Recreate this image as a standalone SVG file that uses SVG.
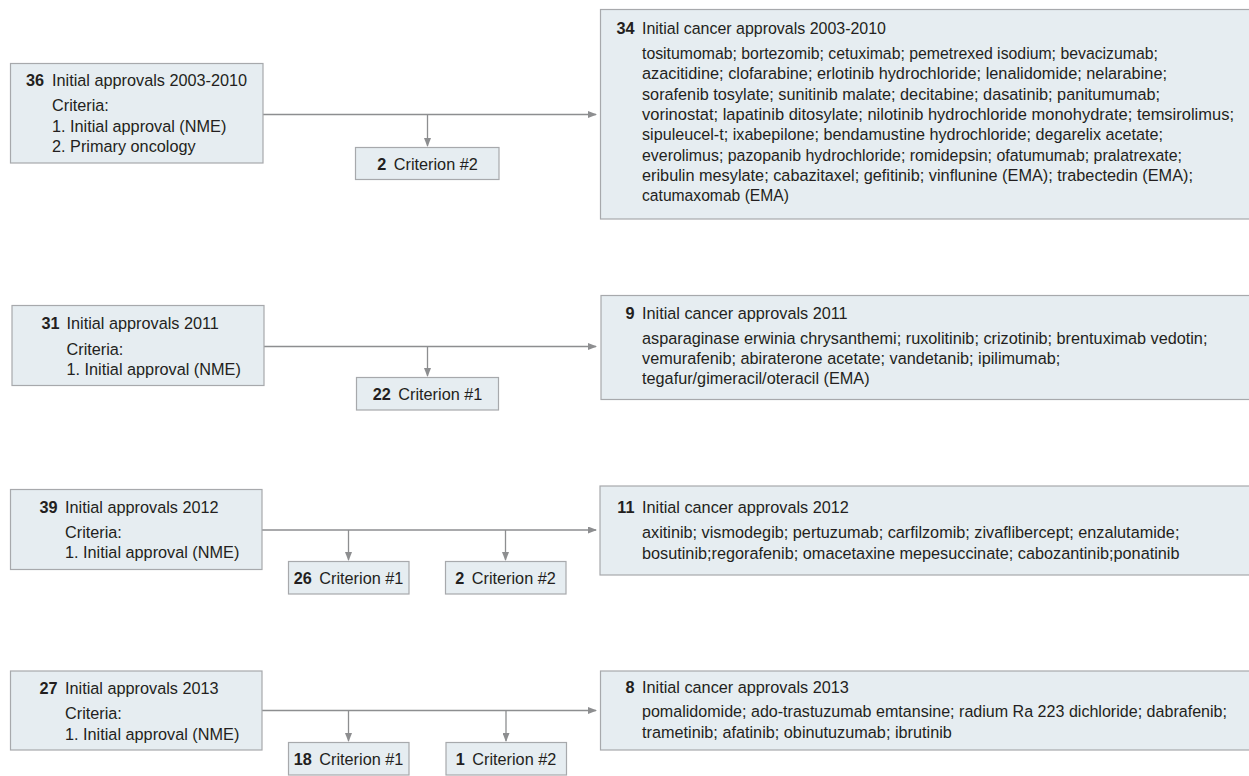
<svg xmlns="http://www.w3.org/2000/svg" width="1249" height="776" viewBox="0 0 1249 776">
<style>
.box{fill:#e6edf1;stroke:#a7a9ac;stroke-width:1.2}
.t{font-family:"Liberation Sans",Arial,sans-serif;font-size:16.25px;fill:#231f20}
.n{font-weight:bold}
.e{text-anchor:end;font-weight:bold}
.m{text-anchor:middle}
.c{fill:none;stroke:#8d8e90;stroke-width:1.3}
</style>
<defs>
<marker id="ah" markerUnits="userSpaceOnUse" markerWidth="9" markerHeight="7" refX="8" refY="3.5" orient="auto">
<path d="M0,0 L9,3.5 L0,7 z" fill="#8d8e90"/>
</marker>
</defs>
<rect width="1249" height="776" fill="#ffffff"/>

<g id="connectors">
<path class="c" d="M263,114.5 H596" marker-end="url(#ah)"/>
<path class="c" d="M427.5,114.5 V146" marker-end="url(#ah)"/>
<path class="c" d="M264,346.5 H596" marker-end="url(#ah)"/>
<path class="c" d="M427.5,346.5 V376" marker-end="url(#ah)"/>
<path class="c" d="M262,530 H596" marker-end="url(#ah)"/>
<path class="c" d="M348.5,530 V560" marker-end="url(#ah)"/>
<path class="c" d="M505.5,530 V560" marker-end="url(#ah)"/>
<path class="c" d="M262,710.5 H596" marker-end="url(#ah)"/>
<path class="c" d="M348.5,710.5 V741" marker-end="url(#ah)"/>
<path class="c" d="M506,710.5 V741" marker-end="url(#ah)"/>
</g>

<g id="initial-2003-2010">
<rect class="box" x="10.5" y="63.5" width="252.5" height="99.5"/>
<text class="t e" x="44" y="86">36</text>
<text class="t" x="52" y="86">Initial approvals 2003-2010</text>
<text class="t" x="52" y="111">Criteria:</text>
<text class="t" x="52" y="131.5">1. Initial approval (NME)</text>
<text class="t" x="52" y="152">2. Primary oncology</text>
</g>

<g id="excluded-2003-2010">
<rect class="box" x="355.5" y="147.5" width="143.5" height="32"/>
<text class="t m" x="427.5" y="169.5"><tspan class="n">2</tspan><tspan dx="3"> Criterion #2</tspan></text>
</g>

<g id="cancer-2003-2010">
<rect class="box" x="600.5" y="9.5" width="650" height="209.5"/>
<text class="t e" x="634.5" y="33.5">34</text>
<text class="t" x="642" y="33.5" textLength="244" lengthAdjust="spacingAndGlyphs">Initial cancer approvals 2003-2010</text>
<text class="t" x="642" y="59" textLength="516" lengthAdjust="spacingAndGlyphs">tositumomab; bortezomib; cetuximab; pemetrexed isodium; bevacizumab;</text>
<text class="t" x="642" y="79.3" textLength="525" lengthAdjust="spacingAndGlyphs">azacitidine; clofarabine; erlotinib hydrochloride; lenalidomide; nelarabine;</text>
<text class="t" x="642" y="99.6" textLength="518" lengthAdjust="spacingAndGlyphs">sorafenib tosylate; sunitinib malate; decitabine; dasatinib; panitumumab;</text>
<text class="t" x="642" y="119.9" textLength="592" lengthAdjust="spacingAndGlyphs">vorinostat; lapatinib ditosylate; nilotinib hydrochloride monohydrate; temsirolimus;</text>
<text class="t" x="642" y="140.2" textLength="521" lengthAdjust="spacingAndGlyphs">sipuleucel-t; ixabepilone; bendamustine hydrochloride; degarelix acetate;</text>
<text class="t" x="642" y="160.5" textLength="540" lengthAdjust="spacingAndGlyphs">everolimus; pazopanib hydrochloride; romidepsin; ofatumumab; pralatrexate;</text>
<text class="t" x="642" y="180.8" textLength="551" lengthAdjust="spacingAndGlyphs">eribulin mesylate; cabazitaxel; gefitinib; vinflunine (EMA); trabectedin (EMA);</text>
<text class="t" x="642" y="201.1" textLength="147" lengthAdjust="spacingAndGlyphs">catumaxomab (EMA)</text>
</g>

<g id="initial-2011">
<rect class="box" x="12" y="305.5" width="252" height="80"/>
<text class="t e" x="59.5" y="328.5">31</text>
<text class="t" x="66.5" y="328.5">Initial approvals 2011</text>
<text class="t" x="66.5" y="354.5">Criteria:</text>
<text class="t" x="66.5" y="375">1. Initial approval (NME)</text>
</g>

<g id="excluded-2011">
<rect class="box" x="356.5" y="377.5" width="142" height="32.5"/>
<text class="t m" x="427.5" y="400"><tspan class="n">22</tspan><tspan dx="3"> Criterion #1</tspan></text>
</g>

<g id="cancer-2011">
<rect class="box" x="601" y="295.5" width="650" height="104"/>
<text class="t e" x="634.5" y="318.5">9</text>
<text class="t" x="642" y="318.5">Initial cancer approvals 2011</text>
<text class="t" x="642" y="344">asparaginase erwinia chrysanthemi; ruxolitinib; crizotinib; brentuximab vedotin;</text>
<text class="t" x="642" y="364">vemurafenib; abiraterone acetate; vandetanib; ipilimumab;</text>
<text class="t" x="642" y="384">tegafur/gimeracil/oteracil (EMA)</text>
</g>

<g id="initial-2012">
<rect class="box" x="10.5" y="489.5" width="251.5" height="80"/>
<text class="t e" x="57.5" y="512.5">39</text>
<text class="t" x="65" y="512.5">Initial approvals 2012</text>
<text class="t" x="65" y="537.5">Criteria:</text>
<text class="t" x="65" y="558">1. Initial approval (NME)</text>
</g>

<g id="excluded-2012-c1">
<rect class="box" x="288.5" y="561.5" width="120.5" height="32.5"/>
<text class="t m" x="348.5" y="584"><tspan class="n">26</tspan><tspan dx="3"> Criterion #1</tspan></text>
</g>

<g id="excluded-2012-c2">
<rect class="box" x="445.5" y="561.5" width="120.5" height="32.5"/>
<text class="t m" x="505.5" y="584"><tspan class="n">2</tspan><tspan dx="3"> Criterion #2</tspan></text>
</g>

<g id="cancer-2012">
<rect class="box" x="600" y="486" width="650" height="89"/>
<text class="t e" x="634.5" y="513">11</text>
<text class="t" x="642" y="513">Initial cancer approvals 2012</text>
<text class="t" x="642" y="538">axitinib; vismodegib; pertuzumab; carfilzomib; zivaflibercept; enzalutamide;</text>
<text class="t" x="642" y="558.5">bosutinib;regorafenib; omacetaxine mepesuccinate; cabozantinib;ponatinib</text>
</g>

<g id="initial-2013">
<rect class="box" x="10.5" y="671" width="251.5" height="79"/>
<text class="t e" x="57.5" y="694">27</text>
<text class="t" x="65" y="694">Initial approvals 2013</text>
<text class="t" x="65" y="719">Criteria:</text>
<text class="t" x="65" y="739.5">1. Initial approval (NME)</text>
</g>

<g id="excluded-2013-c1">
<rect class="box" x="288.5" y="742.5" width="120.5" height="32.5"/>
<text class="t m" x="348.5" y="765"><tspan class="n">18</tspan><tspan dx="3"> Criterion #1</tspan></text>
</g>

<g id="excluded-2013-c2">
<rect class="box" x="446" y="742.5" width="120.5" height="32.5"/>
<text class="t m" x="506" y="765"><tspan class="n">1</tspan><tspan dx="3"> Criterion #2</tspan></text>
</g>

<g id="cancer-2013">
<rect class="box" x="600.5" y="671" width="650" height="79"/>
<text class="t e" x="634.5" y="692.7">8</text>
<text class="t" x="642" y="692.7">Initial cancer approvals 2013</text>
<text class="t" x="642" y="717" textLength="585" lengthAdjust="spacingAndGlyphs">pomalidomide; ado-trastuzumab emtansine; radium Ra 223 dichloride; dabrafenib;</text>
<text class="t" x="642" y="737.5">trametinib; afatinib; obinutuzumab; ibrutinib</text>
</g>
</svg>
